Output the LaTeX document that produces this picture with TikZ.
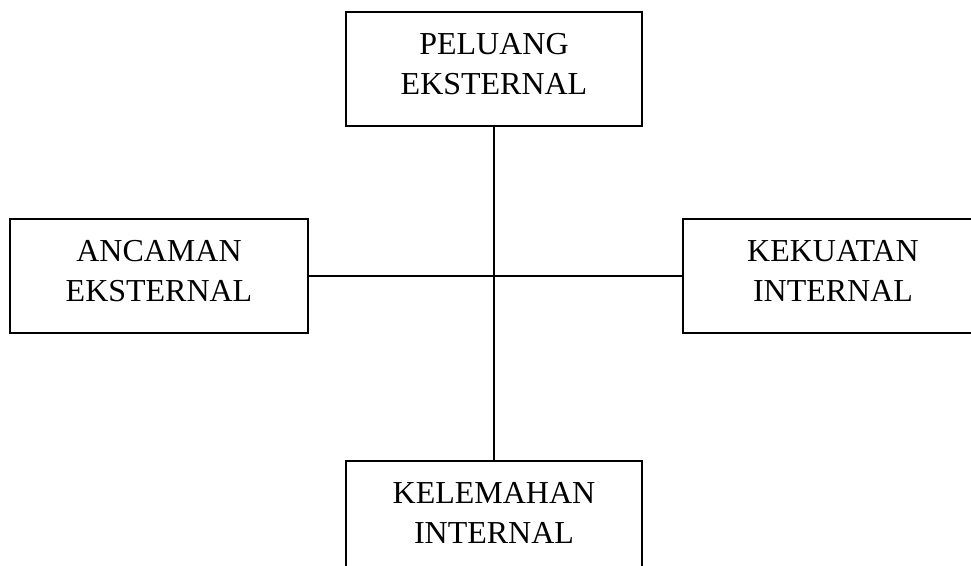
\documentclass[tikz,border=0pt]{standalone}
\usepackage{fontspec}
\setmainfont{Liberation Serif}
\begin{document}
\begin{tikzpicture}[scale=1,
  kotak/.style={draw, line width=0.6pt, align=center, minimum width=5.92cm,
    minimum height=2.28cm, text depth=0.2cm,
    font=\fontsize{18.2}{22.8}\selectfont}]
\useasboundingbox (0,0) rectangle (19.42,-11.32) ;

\node [kotak] (peluang)   at (9.88,-1.38)  {PELUANG\\EKSTERNAL} ;
\node [kotak, minimum width=5.96cm] (ancaman)  at (3.18,-5.52)  {ANCAMAN\\EKSTERNAL} ;
\node [kotak, minimum width=6cm]    (kekuatan) at (16.66,-5.52) {KEKUATAN\\INTERNAL} ;
\node [kotak] (kelemahan) at (9.88,-10.36) {KELEMAHAN\\INTERNAL} ;

\draw [line width=0.6pt] (peluang) -- (kelemahan) ;
\draw [line width=0.6pt] (ancaman) -- (kekuatan) ;

\end{tikzpicture}
\end{document}
